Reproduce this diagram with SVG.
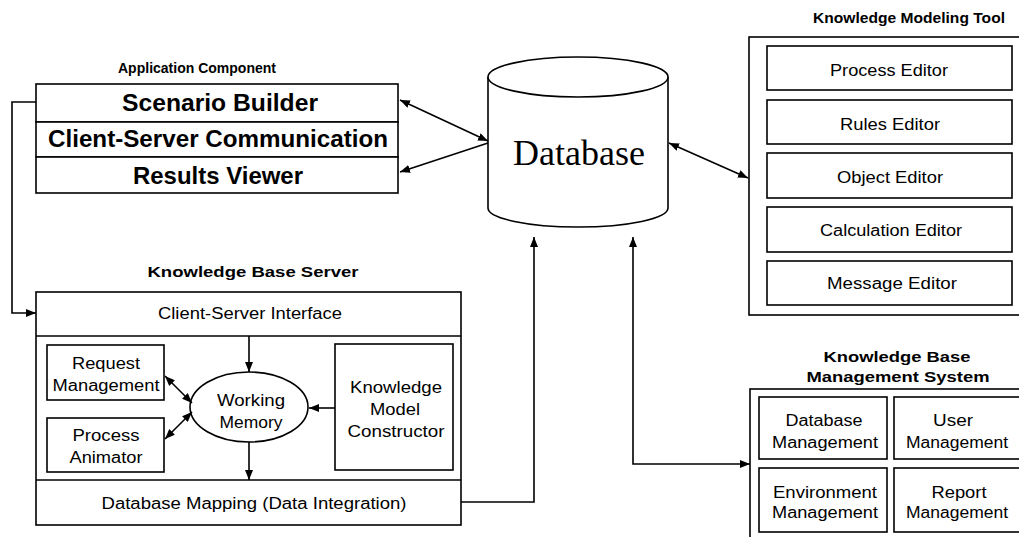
<svg xmlns="http://www.w3.org/2000/svg" width="1019" height="537" viewBox="0 0 1019 537">
<style>
.b{fill:#fff;stroke:#000;stroke-width:1.6}
.t{font-family:"Liberation Sans",Arial,sans-serif;font-size:16px;fill:#000;text-anchor:middle}
.h{font-family:"Liberation Sans",Arial,sans-serif;font-size:15px;font-weight:bold;fill:#000;text-anchor:middle}
.r{font-family:"Liberation Sans",Arial,sans-serif;font-size:24px;font-weight:bold;fill:#000;text-anchor:middle}
.c{fill:none;stroke:#000;stroke-width:1.6}
</style>
<defs>
<marker id="a" viewBox="0 0 10 8" refX="10" refY="4" markerWidth="10" markerHeight="8" markerUnits="userSpaceOnUse" orient="auto-start-reverse">
<path d="M0,0 L10,4 L0,8 Z" fill="#000"/>
</marker>
</defs>
<rect width="1019" height="537" fill="#fff"/>

<g id="app-component">
<text class="h" x="197" y="73" textLength="158" lengthAdjust="spacingAndGlyphs">Application Component</text>
<rect class="b" x="36" y="84" width="362" height="38"/>
<rect class="b" x="36" y="122" width="362" height="35"/>
<rect class="b" x="36" y="157" width="362" height="36"/>
<text class="r" x="220" y="111" textLength="196" lengthAdjust="spacingAndGlyphs">Scenario Builder</text>
<text class="r" x="218" y="147" textLength="340" lengthAdjust="spacingAndGlyphs">Client-Server Communication</text>
<text class="r" x="218" y="184" textLength="170" lengthAdjust="spacingAndGlyphs">Results Viewer</text>
</g>

<g id="database">
<path class="b" d="M488,77 L488,208 A90,19 0 0 0 668,208 L668,77"/>
<ellipse class="b" cx="578" cy="77" rx="90" ry="20"/>
<text x="579" y="165" font-family="'Liberation Serif','Times New Roman',serif" font-size="36" text-anchor="middle" textLength="132" lengthAdjust="spacingAndGlyphs">Database</text>
</g>

<g id="kb-server">
<text class="h" x="253" y="277" textLength="211" lengthAdjust="spacingAndGlyphs">Knowledge Base Server</text>
<rect class="b" x="36" y="292" width="425" height="233"/>
<line class="c" x1="36" y1="336" x2="461" y2="336"/>
<line class="c" x1="36" y1="480" x2="461" y2="480"/>
<text class="t" x="250" y="319" textLength="184" lengthAdjust="spacingAndGlyphs">Client-Server Interface</text>
<text class="t" x="254" y="509" textLength="305" lengthAdjust="spacingAndGlyphs">Database Mapping (Data Integration)</text>
</g>

<g id="request-management">
<rect class="b" x="47" y="345" width="117" height="55"/>
<text class="t" x="106" y="369" textLength="68" lengthAdjust="spacingAndGlyphs">Request</text>
<text class="t" x="106" y="391" textLength="107" lengthAdjust="spacingAndGlyphs">Management</text>
</g>

<g id="process-animator">
<rect class="b" x="47" y="418" width="117" height="54"/>
<text class="t" x="106" y="441" textLength="67" lengthAdjust="spacingAndGlyphs">Process</text>
<text class="t" x="106" y="463" textLength="73" lengthAdjust="spacingAndGlyphs">Animator</text>
</g>

<g id="working-memory">
<ellipse class="b" cx="249" cy="407" rx="59" ry="35"/>
<text class="t" x="251" y="406" textLength="68" lengthAdjust="spacingAndGlyphs">Working</text>
<text class="t" x="251" y="428" textLength="63" lengthAdjust="spacingAndGlyphs">Memory</text>
</g>

<g id="knowledge-model-constructor">
<rect class="b" x="335" y="344" width="118" height="126"/>
<text class="t" x="396" y="393" textLength="92" lengthAdjust="spacingAndGlyphs">Knowledge</text>
<text class="t" x="395" y="415" textLength="50" lengthAdjust="spacingAndGlyphs">Model</text>
<text class="t" x="396" y="437" textLength="97" lengthAdjust="spacingAndGlyphs">Constructor</text>
</g>

<g id="kmt">
<text class="h" x="909" y="23" textLength="192" lengthAdjust="spacingAndGlyphs">Knowledge Modeling Tool</text>
<rect class="b" x="749" y="37" width="280" height="278"/>
<rect class="b" x="767" y="46" width="245" height="44"/>
<rect class="b" x="767" y="100" width="245" height="44"/>
<rect class="b" x="767" y="153" width="245" height="45"/>
<rect class="b" x="767" y="207" width="245" height="45"/>
<rect class="b" x="767" y="261" width="245" height="44"/>
<text class="t" x="889" y="76" textLength="118" lengthAdjust="spacingAndGlyphs">Process Editor</text>
<text class="t" x="890" y="130" textLength="100" lengthAdjust="spacingAndGlyphs">Rules Editor</text>
<text class="t" x="890" y="183" textLength="106" lengthAdjust="spacingAndGlyphs">Object Editor</text>
<text class="t" x="891" y="236" textLength="142" lengthAdjust="spacingAndGlyphs">Calculation Editor</text>
<text class="t" x="892" y="289" textLength="130" lengthAdjust="spacingAndGlyphs">Message Editor</text>
</g>

<g id="kbms">
<text class="h" x="897" y="362" textLength="147" lengthAdjust="spacingAndGlyphs">Knowledge Base</text>
<text class="h" x="898" y="382" textLength="183" lengthAdjust="spacingAndGlyphs">Management System</text>
<rect class="b" x="750" y="389" width="280" height="150"/>
<rect class="b" x="759" y="397" width="128" height="62"/>
<rect class="b" x="894" y="397" width="130" height="62"/>
<rect class="b" x="759" y="468" width="128" height="64"/>
<rect class="b" x="894" y="468" width="130" height="64"/>
<text class="t" x="824" y="426" textLength="77" lengthAdjust="spacingAndGlyphs">Database</text>
<text class="t" x="825" y="448" textLength="106" lengthAdjust="spacingAndGlyphs">Management</text>
<text class="t" x="953" y="426" textLength="40" lengthAdjust="spacingAndGlyphs">User</text>
<text class="t" x="957" y="448" textLength="102" lengthAdjust="spacingAndGlyphs">Management</text>
<text class="t" x="825" y="498" textLength="104" lengthAdjust="spacingAndGlyphs">Environment</text>
<text class="t" x="825" y="518" textLength="106" lengthAdjust="spacingAndGlyphs">Management</text>
<text class="t" x="959" y="498" textLength="55" lengthAdjust="spacingAndGlyphs">Report</text>
<text class="t" x="957" y="518" textLength="102" lengthAdjust="spacingAndGlyphs">Management</text>
</g>

<g id="connectors">
<polyline class="c" points="36,102 12,102 12,313 36,313" marker-end="url(#a)"/>
<line class="c" x1="400" y1="100" x2="488" y2="141" marker-start="url(#a)" marker-end="url(#a)"/>
<line class="c" x1="488" y1="143" x2="400" y2="172" marker-end="url(#a)"/>
<line class="c" x1="669" y1="143" x2="748" y2="178" marker-start="url(#a)" marker-end="url(#a)"/>
<polyline class="c" points="461,502 534,502 534,237" marker-end="url(#a)"/>
<polyline class="c" points="633,237 633,464 750,464" marker-start="url(#a)" marker-end="url(#a)"/>
<line class="c" x1="249" y1="336" x2="249" y2="372" marker-end="url(#a)"/>
<line class="c" x1="249" y1="442" x2="249" y2="480" marker-end="url(#a)"/>
<line class="c" x1="335" y1="408" x2="309" y2="408" marker-end="url(#a)"/>
<line class="c" x1="165" y1="376" x2="192" y2="403" marker-start="url(#a)" marker-end="url(#a)"/>
<line class="c" x1="165" y1="439" x2="192" y2="412" marker-start="url(#a)" marker-end="url(#a)"/>
</g>
</svg>
